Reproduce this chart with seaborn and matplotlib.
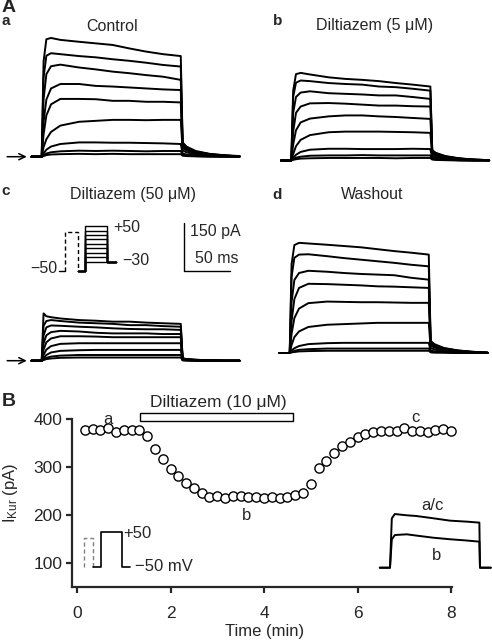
import numpy as np
import pandas as pd
import matplotlib
matplotlib.use("Agg")
import matplotlib.pyplot as plt
import seaborn as sns
from matplotlib.patches import Rectangle

sns.set_style("ticks")
plt.rcParams['font.family'] = ['Liberation Sans', 'DejaVu Sans']
plt.rcParams['mathtext.fontset'] = 'custom'
plt.rcParams['mathtext.rm'] = 'Liberation Sans'
plt.rcParams['mathtext.it'] = 'Liberation Sans:italic'

#Data
# Panel A: current traces (pA) sampled at these times (ms, pulse 0-150 ms), steps -30..+50 mV
trace_t = [-11, 0, 2, 5, 10, 20, 40, 58, 76, 94, 112, 130, 149, 151, 155, 165, 180, 195, 212]

control_pA = [
    [0, 0, 300, 370, 374, 368, 362, 357, 352, 341, 331, 323, 317, 45, 32, 18, 9, 5, 2],
    [0, 0, 250, 318, 326, 323, 317, 313, 307, 302, 296, 289, 284, 42, 30, 16, 8, 4, 1],
    [0, 0, 180, 260, 285, 290, 281, 275, 268, 263, 257, 252, 242, 38, 27, 15, 8, 4, 1],
    [0, 0, 110, 180, 215, 229, 229, 223, 221, 218, 215, 212, 210, 33, 23, 13, 7, 3, 1],
    [0, 0, 70, 130, 165, 182, 182, 181, 176, 176, 173, 173, 171, 28, 20, 11, 6, 3, 1],
    [0, 0, 30, 55, 78, 98, 110, 113, 116, 116, 115, 116, 116, 20, 14, 8, 4, 2, 1],
    [0, 0, 10, 22, 32, 40, 45, 45, 44, 44, 43, 42, 40, 10, 7, 4, 2, 1, 0],
    [0, 0, 4, 10, 14, 17, 19, 18, 19, 18, 17, 18, 18, 6, 4, 2, 1, 0, 0],
    [0, 0, 2, 5, 7, 8, 9, 8, 9, 8, 8, 8, 8, 3, 2, 1, 0, 0, 0],
]
dilt5_pA = [
    [0, 0, 220, 272, 276, 271, 262, 257, 254, 250, 244, 239, 233, 32, 24, 14, 7, 3, 1],
    [0, 0, 200, 245, 252, 250, 244, 241, 239, 233, 231, 226, 220, 30, 22, 13, 6, 3, 1],
    [0, 0, 150, 200, 214, 218, 212, 210, 208, 205, 205, 200, 194, 28, 20, 12, 6, 3, 1],
    [0, 0, 90, 150, 170, 180, 181, 179, 176, 173, 173, 171, 170, 25, 18, 10, 5, 2, 1],
    [0, 0, 50, 95, 120, 132, 139, 142, 142, 139, 137, 134, 131, 20, 15, 8, 4, 2, 1],
    [0, 0, 20, 45, 65, 80, 89, 91, 91, 91, 90, 89, 87, 14, 10, 6, 3, 1, 0],
    [0, 0, 8, 18, 27, 34, 37, 37, 36, 36, 36, 37, 36, 8, 6, 3, 1, 0, 0],
    [0, 0, 4, 9, 12, 15, 16, 16, 17, 16, 16, 16, 16, 5, 3, 2, 1, 0, 0],
    [0, 0, 2, 4, 6, 7, 8, 8, 8, 8, 7, 8, 8, 3, 2, 1, 0, 0, 0],
]
dilt50_pA = [
    [0, 0, 149, 140, 137, 133, 128, 126, 123, 123, 120, 118, 116, 8, 5, 3, 1, 0, 0],
    [0, 0, 110, 125, 128, 125, 120, 118, 116, 112, 112, 109, 107, 7, 5, 3, 1, 0, 0],
    [0, 0, 80, 105, 111, 110, 107, 105, 102, 100, 99, 99, 97, 6, 4, 2, 1, 0, 0],
    [0, 0, 55, 80, 90, 94, 92, 88, 86, 86, 86, 84, 84, 5, 4, 2, 1, 0, 0],
    [0, 0, 35, 58, 70, 77, 77, 76, 74, 74, 74, 74, 74, 4, 3, 2, 1, 0, 0],
    [0, 0, 18, 35, 46, 53, 55, 55, 55, 55, 55, 55, 55, 3, 2, 1, 0, 0, 0],
    [0, 0, 8, 18, 26, 31, 33, 34, 34, 34, 34, 34, 34, 2, 1, 1, 0, 0, 0],
    [0, 0, 4, 9, 13, 16, 18, 18, 18, 18, 18, 18, 18, 2, 1, 0, 0, 0, 0],
    [0, 0, 2, 5, 7, 9, 10, 10, 10, 10, 10, 10, 10, 1, 1, 0, 0, 0, 0],
]
washout_pA = [
    [0, 0, 280, 340, 347, 345, 341, 337, 333, 327, 321, 316, 310, 38, 28, 16, 8, 4, 1],
    [0, 0, 240, 300, 310, 311, 305, 299, 294, 289, 284, 278, 273, 36, 26, 15, 8, 4, 1],
    [0, 0, 160, 230, 252, 259, 256, 252, 249, 247, 245, 237, 231, 33, 24, 13, 7, 3, 1],
    [0, 0, 100, 170, 205, 218, 217, 215, 213, 210, 209, 207, 205, 30, 21, 12, 6, 3, 1],
    [0, 0, 60, 110, 140, 157, 162, 161, 160, 160, 159, 158, 158, 24, 17, 10, 5, 2, 1],
    [0, 0, 25, 50, 68, 82, 89, 91, 93, 95, 95, 95, 95, 16, 11, 6, 3, 1, 0],
    [0, 0, 8, 15, 22, 28, 31, 32, 32, 32, 32, 32, 32, 8, 5, 3, 1, 0, 0],
    [0, 0, 3, 7, 10, 12, 14, 14, 14, 14, 14, 14, 14, 4, 3, 2, 1, 0, 0],
    [0, 0, 2, 3, 5, 6, 7, 7, 7, 7, 7, 7, 7, 2, 1, 1, 0, 0, 0],
]

# voltage protocol (schematic) for panel A
step_mv = [-30, -20, -10, 0, 10, 20, 30, 40, 50]
protA_pre_t = [42, 42, 131, 131]
protA_pre_v = [-50, 37, 37, -50]

# Panel B: time course of I_Kur
time_s = [10, 20, 30, 40, 50, 60, 70, 80, 90, 100, 110, 120, 130, 140, 150, 160,
          170, 180, 190, 200, 210, 220, 230, 240, 250, 260, 270, 280, 290, 300, 310, 320,
          330, 340, 350, 360, 370, 380, 390, 400, 410, 420, 430, 440, 450, 460, 470, 480]
ikur_pA = [377, 379, 377, 381, 372, 377, 377, 377, 365, 337, 316, 295, 281, 267, 256, 245,
           238, 240, 236, 240, 240, 238, 238, 236, 238, 236, 238, 241, 245, 264, 297, 313,
           329, 344, 353, 363, 368, 372, 374, 375, 375, 381, 375, 374, 372, 377, 379, 376]
drug_min = [1.345, 4.61]

# inset currents in B
inset_t = [-17, 0, 3, 8, 28, 44, 72, 100, 128, 149, 150, 168]
inset_ac = [0, 0, 350, 381, 372, 367, 351, 334, 327, 320, 0, 0]
inset_b = [0, 0, 200, 232, 237, 228, 213, 202, 193, 185, 0, 0]

# inset protocol in B
protB_pre_t = [0, 0, 63, 63]
protB_pre_v = [-50, 32, 32, -50]
protB_t = [63, 117, 117, 267, 267, 325]
protB_v = [-50, -50, 50, 50, -50, -50]

#Layout helpers (pixel based)
W, H = 492, 644
fig = plt.figure(figsize=(W / 100, H / 100), dpi=100)


def px_axes(left, top, right, bottom):
    return fig.add_axes([left / W, 1 - bottom / H, (right - left) / W, (bottom - top) / H])


def ftext(x, y, s, **kw):
    fig.text(x / W, 1 - y / H, s, **kw)


MS_PX = 150 / 140  # ms per pixel
PA_PX = 3.15       # pA per pixel


def trace_panel(onset, base, rows):
    ax = px_axes(onset - 15 / MS_PX, base - 450 / PA_PX, onset + 215 / MS_PX, base + 20 / PA_PX)
    df = pd.DataFrame([(i, t, v) for i, row in enumerate(rows) for t, v in zip(trace_t, row)],
                      columns=['trace', 't', 'pA'])
    sns.lineplot(data=df, x='t', y='pA', units='trace', estimator=None, sort=False,
                 color='black', lw=1.4, ax=ax, legend=False)
    ax.set_xlim(-15, 215)
    ax.set_ylim(-20, 450)
    ax.set_axis_off()
    return ax


ax_a = trace_panel(41.7, 156.7, control_pA)
ax_b = trace_panel(291.3, 160.5, dilt5_pA)
ax_c = trace_panel(41.7, 360.7, dilt50_pA)
ax_d = trace_panel(289.7, 353, washout_pA)

for ax in (ax_a, ax_c):
    ax.annotate('', xy=(-13, 0), xytext=(-40, 0), annotation_clip=False,
                arrowprops=dict(arrowstyle='->,head_length=0.45,head_width=0.22', lw=1.1, color='black'))

# scale bar 150 pA / 50 ms
ax_c.plot([152, 152, 202], [433.5, 283.5, 283.5], color='black', lw=1.0, clip_on=False)
ax_c.text(159, 408, '150 pA', fontsize=11.5, va='center', ha='left')
ax_c.text(164, 323, '50 ms', fontsize=11.5, va='center', ha='left')

# protocol schematic in panel A
ax_p = px_axes(57.6, 221.6, 57.6 + 60, 221.6 + 53.6)
ax_p.set_xlim(-10, 410)
ax_p.set_ylim(-60, 60)
ax_p.set_axis_off()
ax_p.plot([0, 42], [-50, -50], color='black', lw=1.0)
ax_p.plot(protA_pre_t, protA_pre_v, color='black', lw=1.0, ls=(0, (3, 2)))
for v in step_mv:
    ax_p.plot([131, 183, 183, 333, 333, 396], [-50, -50, v, v, -30, -30], color='black', lw=1.0)
ax_p.text(380, 46, '+50', fontsize=11.5, va='center', ha='left')
ax_p.text(441, -28, '\u221230', fontsize=11.5, va='center', ha='left')
ax_p.text(-14, -46, '\u221250', fontsize=11.5, va='center', ha='right')

# panel letters and titles
ftext(2, 7, 'A', fontsize=14, fontweight='bold', va='center', ha='left')
ftext(2, 25, 'a', fontsize=11, fontweight='bold', va='baseline')
ftext(273, 25, 'b', fontsize=11, fontweight='bold', va='baseline')
ftext(1, 195, 'c', fontsize=11, fontweight='bold', va='baseline')
ftext(272, 199, 'd', fontsize=11, fontweight='bold', va='baseline')
ftext(112, 31, 'Control', fontsize=11.5, ha='center', va='baseline')
ftext(375, 30, 'Diltiazem (5 \u03bcM)', fontsize=11.5, ha='center', va='baseline')
ftext(133.5, 199, 'Diltiazem (50 \u03bcM)', fontsize=11.5, ha='center', va='baseline')
ftext(372.5, 199, 'Washout', fontsize=11.5, ha='center', va='baseline')
ftext(2, 401.5, 'B', fontsize=14, fontweight='bold', va='center', ha='left')

#Panel B
ax = px_axes(72, 419, 452, 587)
time_min = [s / 60 for s in time_s]
sns.scatterplot(x=time_min, y=ikur_pA, ax=ax, s=44, facecolor='white', edgecolor='black',
                linewidth=1.0, clip_on=False, zorder=3, legend=False)
ax.set_xlim(-0.107, 8.02)
ax.set_ylim(50, 400)
ax.set_xticks([0, 2, 4, 6, 8])
ax.set_yticks([100, 200, 300, 400])
sns.despine(ax=ax)
for sp in ('left', 'bottom'):
    ax.spines[sp].set_linewidth(1.6)
ax.tick_params(axis='both', direction='out', length=4, width=1.6, labelsize=12.5)
ax.tick_params(axis='x', pad=10)
ax.tick_params(axis='y', pad=3)
ax.set_xlabel('Time (min)', fontsize=12)
ax.xaxis.set_label_coords((265 - 72) / 380, (587 - 624) / 168)
ax.set_ylabel(r'I$_{\mathrm{Kur}}$ (pA)', fontsize=12)
ax.yaxis.set_label_coords((20 - 72) / 380, (587 - 493) / 168)

ax.add_patch(Rectangle((drug_min[0], 396), drug_min[1] - drug_min[0], 16.5, facecolor='white',
                       edgecolor='black', lw=1.0, clip_on=False))
ax.text(sum(drug_min) / 2 + 0.05, 435, 'Diltiazem (10 \u03bcM)', fontsize=12.5, ha='center', va='center')
ax.text(0.66, 400, 'a', fontsize=12, ha='center', va='center')
ax.text(3.63, 198, 'b', fontsize=12, ha='center', va='center')
ax.text(7.24, 404, 'c', fontsize=12, ha='center', va='center')

# inset currents
ax_i = px_axes(390 - 20 / 1.667, 567.7 - 420 / 7.1, 390 + 170 / 1.667, 567.7 + 20 / 7.1)
sns.lineplot(x=inset_t, y=inset_ac, ax=ax_i, color='black', lw=1.4, estimator=None, sort=False)
sns.lineplot(x=inset_t, y=inset_b, ax=ax_i, color='black', lw=1.4, estimator=None, sort=False)
ax_i.set_xlim(-20, 170)
ax_i.set_ylim(-20, 420)
ax_i.set_axis_off()
ax_i.text(70, 445, 'a/c', fontsize=12, ha='center', va='center')
ax_i.text(78, 90, 'b', fontsize=12, ha='center', va='center')

# inset protocol
ax_q = px_axes(82.6, 528.2, 82.6 + 50, 528.2 + 42)
ax_q.set_xlim(-10, 340)
ax_q.set_ylim(-60, 60)
ax_q.set_axis_off()
ax_q.plot(protB_pre_t, protB_pre_v, color='grey', lw=1.0, ls=(0, (3, 2)))
ax_q.plot(protB_t, protB_v, color='black', lw=1.2)
ax_q.text(273, 46, '+50', fontsize=12, ha='left', va='center')
ax_q.text(357, -50, '\u221250 mV', fontsize=12, ha='left', va='center')

fig.savefig('out.png', dpi=100)
